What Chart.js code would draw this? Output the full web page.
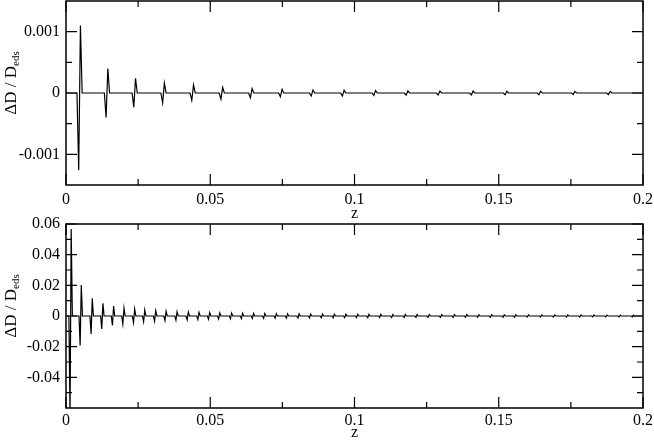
<!DOCTYPE html>
<html>
<head>
<meta charset="utf-8">
<script src="https://cdn.jsdelivr.net/npm/chart.js@4.4.1/dist/chart.umd.min.js"></script>
<style>
  body { margin: 0; background: #fff; }
  #wrap { position: relative; width: 654px; height: 440px; }
  .panel { position: absolute; left: 0; width: 654px; }
</style>
</head>
<body>
<div id="wrap">
  <div class="panel" style="top:0;height:222px"><canvas id="top"></canvas></div>
  <div class="panel" style="top:205px;height:235px"><canvas id="bottom"></canvas></div>
</div>
<script>
// x axis (z), shared by both panels
const xTicks = [0, 0.05, 0.1, 0.15, 0.2];
const xMinor = [0.025, 0.075, 0.125, 0.175];

// top panel: spike centres, minima and maxima
const topZ   = [0.0047, 0.0142, 0.0238, 0.0338, 0.0439, 0.0540, 0.0642, 0.0746, 0.0853, 0.0961,
                0.1070, 0.1182, 0.1293, 0.1408, 0.1525, 0.1642, 0.1761, 0.1883];
const topMin = [-0.00126, -0.00040, -0.00023, -0.00016, -0.00012, -0.00010, -0.000076, -0.00006, -0.00005, -0.000048,
                -0.00004, -0.000034, -0.00003, -0.00003, -0.000028, -0.000027, -0.000026, -0.000025];
const topMax = [0.00110, 0.00040, 0.00024, 0.00016, 0.00013, 0.00009, 0.000072, 0.00006, 0.00005, 0.000045,
                0.00004, 0.000033, 0.00003, 0.00003, 0.000028, 0.000027, 0.000026, 0.000025];
const topYTicks = [-0.001, 0, 0.001];
const topYMinor = [-0.0005, 0.0005];

// bottom panel
const botZ   = [0.0016, 0.0051, 0.0089, 0.0126, 0.0163, 0.0199, 0.0236, 0.0271, 0.0309, 0.0345,
                0.0383, 0.0422, 0.0459, 0.0496, 0.0531, 0.0572, 0.0610, 0.0648, 0.0687, 0.0727,
                0.0766, 0.0806, 0.0846, 0.0887, 0.0928, 0.0968, 0.1009, 0.1048, 0.1089, 0.1131,
                0.1174, 0.1215, 0.1257, 0.1300, 0.1344, 0.1387, 0.1429, 0.1473, 0.1517, 0.1557,
                0.1601, 0.1647, 0.1692, 0.1737, 0.1783, 0.1828, 0.1873, 0.1919, 0.1965];
const botMin = [-0.065, -0.0193, -0.0117, -0.0085, -0.0062, -0.0052, -0.0043, -0.0037, -0.0033, -0.0030,
                -0.0027, -0.0025, -0.0023, -0.0021, -0.0019, -0.0018, -0.0017, -0.0016, -0.0015, -0.0014,
                -0.0014, -0.0013, -0.0013, -0.0012, -0.0012, -0.0011, -0.0011, -0.0011, -0.0010, -0.0010,
                -0.0010, -0.0009, -0.0009, -0.0009, -0.0009, -0.0008, -0.0008, -0.0008, -0.0008, -0.0008,
                -0.0007, -0.0007, -0.0007, -0.0007, -0.0007, -0.0006, -0.0006, -0.0006, -0.0006];
const botMax = [0.0567, 0.0202, 0.0115, 0.0083, 0.0065, 0.0052, 0.0046, 0.0039, 0.0035, 0.0031,
                0.0028, 0.0026, 0.0024, 0.0022, 0.0020, 0.0019, 0.0018, 0.0017, 0.0016, 0.0015,
                0.0014, 0.0014, 0.0013, 0.0013, 0.0012, 0.0012, 0.0011, 0.0011, 0.0011, 0.0010,
                0.0010, 0.0010, 0.0009, 0.0009, 0.0009, 0.0009, 0.0008, 0.0008, 0.0008, 0.0008,
                0.0008, 0.0007, 0.0007, 0.0007, 0.0007, 0.0007, 0.0006, 0.0006, 0.0006];
const botYTicks = [-0.04, -0.02, 0, 0.02, 0.04, 0.06];
const botYMinor = [-0.05, -0.03, -0.01, 0.01, 0.03, 0.05];

// each spike: baseline, dip, peak, baseline
function spikes(zs, mins, maxs, w) {
  const pts = [{ x: 0, y: 0 }];
  zs.forEach((z, i) => {
    pts.push({ x: z - 1.5 * w, y: 0 });
    pts.push({ x: z - w / 2, y: mins[i] });
    pts.push({ x: z + w / 2, y: maxs[i] });
    pts.push({ x: z + 1.5 * w, y: 0 });
  });
  pts.push({ x: 0.2, y: 0 });
  return pts;
}

const serif = '"Liberation Serif", "DejaVu Serif", serif';

// frame with inward ticks on all four sides, plus axis titles
const framePlugin = {
  id: 'frame',
  afterDraw(chart, args, o) {
    const { ctx, chartArea: a, scales: { x, y } } = chart;
    ctx.save();
    ctx.strokeStyle = '#000';
    ctx.lineWidth = 1.5;
    ctx.strokeRect(a.left, a.top, a.right - a.left, a.bottom - a.top);
    ctx.lineWidth = 1.2;
    ctx.beginPath();
    const xt = (vals, len) => vals.forEach(v => {
      const p = x.getPixelForValue(v);
      ctx.moveTo(p, a.bottom); ctx.lineTo(p, a.bottom - len);
      ctx.moveTo(p, a.top); ctx.lineTo(p, a.top + len);
    });
    const yt = (vals, len) => vals.forEach(v => {
      const p = y.getPixelForValue(v);
      ctx.moveTo(a.left, p); ctx.lineTo(a.left + len, p);
      ctx.moveTo(a.right, p); ctx.lineTo(a.right - len, p);
    });
    xt(xTicks, 11); xt(xMinor, 6);
    yt(o.yMajor, 11); yt(o.yMinor, 6);
    ctx.stroke();

    ctx.fillStyle = '#000';
    // x title
    ctx.font = '16px ' + serif;
    ctx.textAlign = 'center';
    ctx.textBaseline = 'alphabetic';
    ctx.fillText('z', (a.left + a.right) / 2, a.bottom + o.zOffset);
    // y title with subscript
    const main = '\u0394D / D', sub = 'eds';
    ctx.font = '17px ' + serif;
    const w1 = ctx.measureText(main).width;
    ctx.font = '11px ' + serif;
    const w2 = ctx.measureText(sub).width;
    ctx.translate(16, (a.top + a.bottom) / 2 - 10);
    ctx.rotate(-Math.PI / 2);
    ctx.textAlign = 'left';
    ctx.font = '17px ' + serif;
    ctx.fillText(main, -(w1 + w2) / 2, 0);
    ctx.font = '11px ' + serif;
    ctx.fillText(sub, -(w1 + w2) / 2 + w1, 3);
    ctx.restore();
  }
};

function makeChart(id, data, yMin, yMax, yTicks, yMinor, cfg) {
  return new Chart(document.getElementById(id), {
    type: 'line',
    data: {
      datasets: [{
        data: data,
        borderColor: '#000',
        borderWidth: 1.2,
        pointRadius: 0,
        tension: 0
      }]
    },
    options: {
      responsive: true,
      maintainAspectRatio: false,
      animation: false,
      layout: { padding: { left: 0, right: 11, top: cfg.top, bottom: 0 } },
      plugins: {
        legend: { display: false },
        tooltip: { enabled: false },
        frame: { yMajor: yTicks, yMinor: yMinor, zOffset: cfg.zOffset }
      },
      scales: {
        x: {
          type: 'linear',
          min: 0, max: 0.2,
          grid: { display: false, drawTicks: false },
          border: { display: false },
          afterBuildTicks: s => { s.ticks = xTicks.map(v => ({ value: v })); },
          afterFit: s => { s.height = cfg.xHeight; s.paddingLeft = 0; s.paddingRight = 0; },
          ticks: {
            color: '#000',
            padding: cfg.xPad,
            maxRotation: 0,
            font: { family: serif, size: 16 },
            callback: v => String(v)
          }
        },
        y: {
          min: yMin, max: yMax,
          grid: { display: false, drawTicks: false },
          border: { display: false },
          afterBuildTicks: s => { s.ticks = yTicks.map(v => ({ value: v })); },
          afterFit: s => { s.width = 66; s.paddingTop = 0; s.paddingBottom = 0; },
          ticks: {
            color: '#000',
            padding: 6,
            font: { family: serif, size: 16 },
            callback: v => String(v)
          }
        }
      }
    },
    plugins: [framePlugin]
  });
}

makeChart('top', spikes(topZ, topMin, topMax, 0.0006), -0.0015, 0.0015, topYTicks, topYMinor,
  { top: 1, xHeight: 37, xPad: 5, zOffset: 33 });
makeChart('bottom', spikes(botZ, botMin, botMax, 0.0004), -0.06, 0.06, botYTicks, botYMinor,
  { top: 19, xHeight: 32, xPad: 3, zOffset: 29 });
</script>
</body>
</html>
